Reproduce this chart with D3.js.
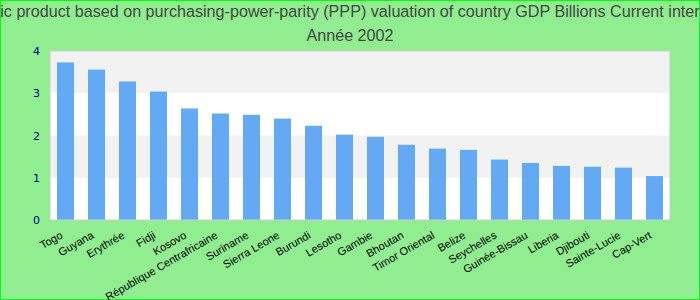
<!DOCTYPE html>
<html>
<head>
<meta charset="utf-8">
<script src="https://cdn.jsdelivr.net/npm/d3@7"></script>
<style>
  body { margin: 0; }
  svg { display: block; }
</style>
</head>
<body>
<svg id="chart" width="700" height="300"></svg>
<script>
var countries = ["Togo", "Guyana", "Erythrée", "Fidji", "Kosovo", "République Centrafricaine",
  "Suriname", "Sierra Leone", "Burundi", "Lesotho", "Gambie", "Bhoutan", "Timor Oriental",
  "Belize", "Seychelles", "Guinée-Bissau", "Liberia", "Djibouti", "Sainte-Lucie", "Cap-Vert"];
var gdpValues = [3.73, 3.56, 3.28, 3.04, 2.64, 2.52, 2.49, 2.40, 2.23, 2.02,
  1.97, 1.78, 1.69, 1.66, 1.43, 1.35, 1.28, 1.26, 1.24, 1.04];
var yTicks = [0, 1, 2, 3, 4];
var titleLines = ["Gross domestic product based on purchasing-power-parity (PPP) valuation of country GDP Billions Current international dollar",
  "Année 2002"];

var svg = d3.select('#chart');
var W = 700, H = 300;
var plotLeft = 50, plotRight = 670, plotTop = 51, plotBottom = 220;

svg.append('rect')
  .attr('x', 0.5).attr('y', 0.5)
  .attr('width', W - 1).attr('height', H - 1)
  .attr('fill', '#90ee90')
  .attr('stroke', '#00ff00');

var x = d3.scaleBand().domain(countries).range([plotLeft, plotRight]).paddingInner(0.45).paddingOuter(0.225);
var y = d3.scaleLinear().domain([0, 4]).range([plotBottom, plotTop]);

// plot background with alternating bands
svg.append('rect')
  .attr('x', plotLeft).attr('y', plotTop)
  .attr('width', plotRight - plotLeft).attr('height', plotBottom - plotTop)
  .attr('fill', '#ffffff');

svg.selectAll('rect.band')
  .data(yTicks.slice(0, -1).filter(function(d) { return d % 2 == 1; }))
  .enter().append('rect')
  .attr('class', 'band')
  .attr('x', plotLeft)
  .attr('y', function(d) { return y(d + 1); })
  .attr('width', plotRight - plotLeft)
  .attr('height', function(d) { return y(d) - y(d + 1); })
  .attr('fill', '#f2f2f2');

svg.selectAll('rect.bar')
  .data(gdpValues)
  .enter().append('rect')
  .attr('class', 'bar')
  .attr('x', function(d, i) { return x(countries[i]); })
  .attr('y', function(d) { return y(d); })
  .attr('width', x.bandwidth())
  .attr('height', function(d) { return plotBottom - y(d); })
  .attr('fill', '#63a9f4');

svg.append('rect')
  .attr('x', plotLeft).attr('y', plotTop)
  .attr('width', plotRight - plotLeft).attr('height', plotBottom - plotTop)
  .attr('fill', 'none')
  .attr('stroke', '#cccccc');

// y axis
var yAxis = svg.append('g')
  .attr('transform', 'translate(' + (plotLeft - 10) + ',0)')
  .call(d3.axisLeft(y).tickValues(yTicks).tickSize(0).tickPadding(0).tickFormat(d3.format('d')));
yAxis.select('.domain').remove();
yAxis.selectAll('text')
  .attr('fill', '#00008b')
  .style('font-family', 'DejaVu Sans, sans-serif')
  .style('font-size', '11px');

// x axis labels
var xAxis = svg.append('g')
  .attr('transform', 'translate(0,' + (plotBottom + 14) + ')')
  .call(d3.axisBottom(x).tickSize(0).tickPadding(0));
xAxis.select('.domain').remove();
xAxis.selectAll('text')
  .attr('fill', '#000')
  .attr('dy', '0.35em')
  .attr('text-anchor', 'end')
  .attr('transform', 'translate(-4,0) rotate(-30)')
  .style('font-family', 'Liberation Sans, Arial, sans-serif')
  .style('font-size', '11px');

// title
svg.selectAll('text.title')
  .data(titleLines)
  .enter().append('text')
  .attr('class', 'title')
  .attr('x', W / 2)
  .attr('y', function(d, i) { return 17 + i * 24; })
  .attr('text-anchor', 'middle')
  .attr('fill', '#444444')
  .style('font-family', 'Liberation Sans, Arial, sans-serif')
  .style('font-size', '16.15px')
  .text(function(d) { return d; });
</script>
</body>
</html>
